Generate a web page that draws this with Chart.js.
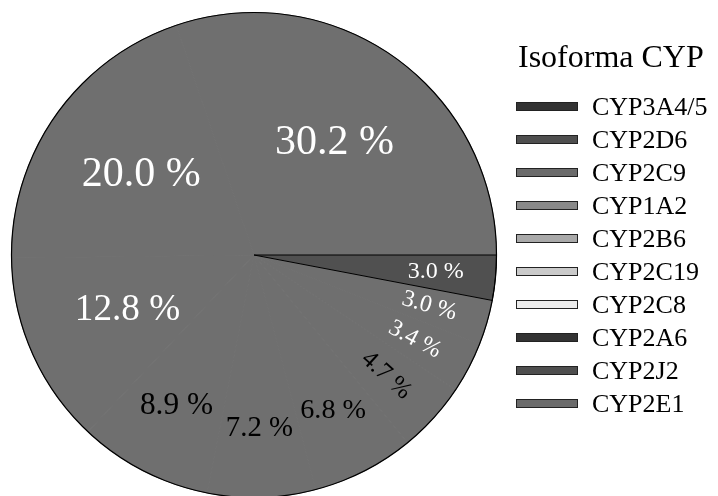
<!DOCTYPE html>
<html>
<head>
<meta charset="utf-8">
<script src="https://cdn.jsdelivr.net/npm/chart.js@4/dist/chart.umd.min.js"></script>
<style>
  html, body { margin: 0; padding: 0; background: #fff; overflow: hidden; }
</style>
</head>
<body>
<canvas id="pieChart" width="718" height="500"></canvas>
<script>
const isoformas = ['CYP3A4/5', 'CYP2D6', 'CYP2C9', 'CYP1A2', 'CYP2B6', 'CYP2C19', 'CYP2C8', 'CYP2A6', 'CYP2J2', 'CYP2E1'];
const porcentajes = [30.2, 20.0, 12.8, 8.9, 7.2, 6.8, 4.7, 3.4, 3.0, 3.0];
const legendColors = ['#333333', '#4e4e4e', '#6b6b6b', '#898989', '#a9a9a9', '#cacaca', '#ececec', '#333333', '#4e4e4e', '#6b6b6b'];
const legendTitle = 'Isoforma CYP';

const SERIF = '"Liberation Serif", "Times New Roman", serif';
const last = isoformas.length - 1;
const total = porcentajes.reduce((a, b) => a + b, 0);

// slices run counter-clockwise from 3 o'clock; chart.js goes clockwise,
// so feed them reversed and start right after the last one so it is drawn on top
const order = isoformas.map((_, i) => last - 1 - i).filter(i => i >= 0).concat([last]);
const startDeg = 90 + porcentajes[last] / total * 360;

const pieFill = isoformas.map((_, i) => i === last ? '#505050' : '#6f6f6f');

const labelColor = c => parseInt(c.slice(1, 3), 16) < 0x80 ? '#ffffff' : '#000000';

const sliceLabels = {
  id: 'sliceLabels',
  afterDatasetsDraw(chart) {
    const ctx = chart.ctx;
    const arcs = chart.getDatasetMeta(0).data;
    const a0 = arcs[0];
    ctx.save();
    ctx.beginPath();
    ctx.arc(a0.x, a0.y, a0.outerRadius, 0, Math.PI * 2);
    ctx.lineWidth = 1.2;
    ctx.strokeStyle = '#000';
    ctx.stroke();

    arcs.forEach((arc, k) => {
      const i = order[k];
      const v = porcentajes[i];
      const mid = (arc.startAngle + arc.endAngle) / 2;
      const r = arc.outerRadius * (v >= 10 ? 0.57 : 0.78 - 0.009 * v);
      const size = Math.min(42, Math.max(24, 18 + 1.5 * v));
      let tilt = v < 5 ? Math.atan2(Math.sin(mid), Math.cos(mid)) : 0;
      if (Math.abs(tilt) < 0.15) tilt = 0;
      ctx.save();
      ctx.translate(arc.x + Math.cos(mid) * r, arc.y + Math.sin(mid) * r);
      ctx.rotate(tilt);
      ctx.font = size + 'px ' + SERIF;
      ctx.fillStyle = labelColor(legendColors[i]);
      ctx.textAlign = 'center';
      ctx.textBaseline = 'middle';
      ctx.fillText(v.toFixed(1) + ' %', 0, 0);
      ctx.restore();
    });
    ctx.restore();
  }
};

const isoformaLegend = {
  id: 'isoformaLegend',
  afterDraw(chart) {
    const ctx = chart.ctx;
    const x = chart.chartArea.right + 19;
    ctx.save();
    ctx.fillStyle = '#000';
    ctx.textAlign = 'left';
    ctx.textBaseline = 'alphabetic';
    ctx.font = '32px ' + SERIF;
    ctx.fillText(legendTitle, x + 2, 67);

    ctx.font = '26px ' + SERIF;
    isoformas.forEach((name, i) => {
      const y = 102 + i * 33;
      ctx.fillStyle = legendColors[i];
      ctx.fillRect(x, y, 62, 9);
      ctx.lineWidth = 1;
      ctx.strokeStyle = '#222';
      ctx.strokeRect(x + 0.5, y + 0.5, 61, 8);
      ctx.fillStyle = '#000';
      ctx.fillText(name, x + 76, y + 13);
    });
    ctx.restore();
  }
};

new Chart(document.getElementById('pieChart'), {
  type: 'pie',
  data: {
    labels: order.map(i => isoformas[i]),
    datasets: [{
      data: order.map(i => porcentajes[i]),
      backgroundColor: order.map(i => pieFill[i]),
      borderColor: order.map(i => i === last ? '#000000' : pieFill[i]),
      borderWidth: 1
    }]
  },
  options: {
    responsive: false,
    animation: false,
    rotation: startDeg,
    layout: { padding: { left: 11, top: 12, right: 221, bottom: 2 } },
    plugins: {
      legend: { display: false },
      tooltip: { enabled: false }
    }
  },
  plugins: [sliceLabels, isoformaLegend]
});
</script>
</body>
</html>
